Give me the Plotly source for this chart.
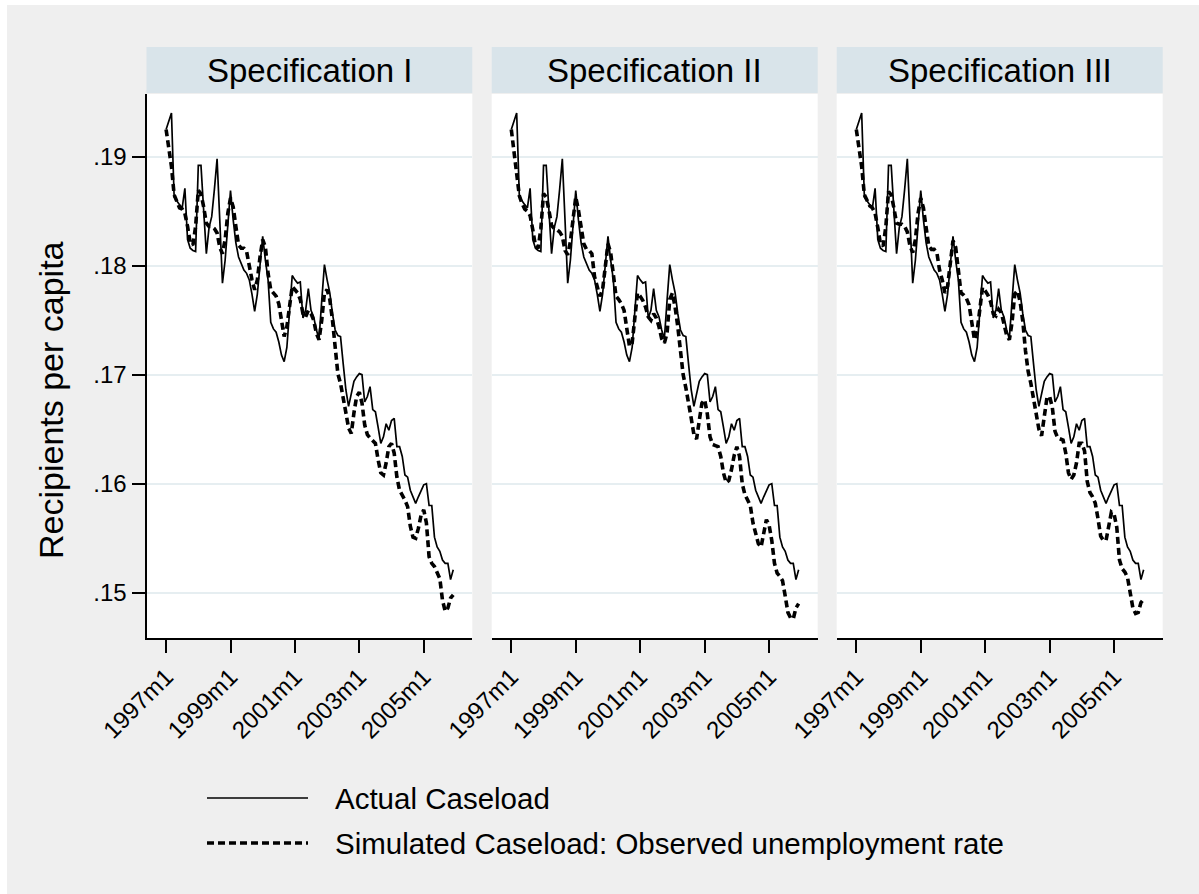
import plotly.graph_objects as go

# Monthly caseload, 1997m1 - 2005m12 (recipients per capita)
actual = [
    0.1925, 0.1932, 0.1940, 0.1863, 0.1859, 0.1856, 0.1853, 0.1871, 0.1824, 0.1816, 0.1814, 0.1813,
    0.1892, 0.1892, 0.1851, 0.1811, 0.1835, 0.1845, 0.1870, 0.1898, 0.1842, 0.1784, 0.1805, 0.1836,
    0.1869, 0.1842, 0.1821, 0.1808, 0.1801, 0.1796, 0.1793, 0.1787, 0.1774, 0.1758, 0.1774, 0.1799,
    0.1827, 0.1805, 0.1787, 0.1748, 0.1742, 0.1739, 0.1730, 0.1718, 0.1712, 0.1725, 0.1755, 0.1791,
    0.1787, 0.1784, 0.1785, 0.1752, 0.1759, 0.1779, 0.1759, 0.1753, 0.1741, 0.1733, 0.1768, 0.1801,
    0.1787, 0.1775, 0.1756, 0.1741, 0.1736, 0.1735, 0.1710, 0.1686, 0.1671, 0.1683, 0.1694, 0.1698,
    0.1701, 0.1700, 0.1675, 0.1680, 0.1689, 0.1668, 0.1666, 0.1652, 0.1637, 0.1643, 0.1655, 0.1649,
    0.1658, 0.1660, 0.1634, 0.1634, 0.1625, 0.1608, 0.1606, 0.1594, 0.1588, 0.1582, 0.1588, 0.1594,
    0.1599, 0.1600, 0.1580, 0.1580, 0.1551, 0.1542, 0.1538, 0.1530, 0.1527, 0.1527, 0.1512, 0.1521,
]

sim_spec1 = [
    0.1925, 0.1906, 0.1891, 0.1865, 0.1859, 0.1853, 0.1852, 0.1848, 0.1836, 0.1821, 0.1819, 0.1836,
    0.1869, 0.1866, 0.1854, 0.1839, 0.1836, 0.1836, 0.1834, 0.1830, 0.1817, 0.1811, 0.1824, 0.1848,
    0.1862, 0.1854, 0.1836, 0.1819, 0.1816, 0.1816, 0.1813, 0.1799, 0.1787, 0.1778, 0.1787, 0.1808,
    0.1824, 0.1817, 0.1793, 0.1778, 0.1775, 0.1772, 0.1765, 0.1747, 0.1735, 0.1744, 0.1762, 0.1781,
    0.1778, 0.1775, 0.1769, 0.1756, 0.1753, 0.1759, 0.1756, 0.1750, 0.1738, 0.1732, 0.1750, 0.1775,
    0.1778, 0.1769, 0.1750, 0.1721, 0.1701, 0.1692, 0.1680, 0.1665, 0.1651, 0.1646, 0.1665, 0.1680,
    0.1684, 0.1674, 0.1654, 0.1645, 0.1642, 0.1640, 0.1637, 0.1622, 0.1610, 0.1608, 0.1619, 0.1634,
    0.1637, 0.1628, 0.1606, 0.1594, 0.1590, 0.1585, 0.1579, 0.1561, 0.1551, 0.1550, 0.1559, 0.1571,
    0.1576, 0.1564, 0.1533, 0.1527, 0.1524, 0.1519, 0.1513, 0.1493, 0.1483, 0.1486, 0.1495, 0.1498,
]

sim_spec2 = [
    0.1925, 0.1905, 0.1890, 0.1864, 0.1857, 0.1852, 0.1850, 0.1846, 0.1833, 0.1818, 0.1816, 0.1834,
    0.1866, 0.1863, 0.1851, 0.1837, 0.1834, 0.1833, 0.1831, 0.1827, 0.1814, 0.1810, 0.1822, 0.1845,
    0.1863, 0.1851, 0.1833, 0.1820, 0.1815, 0.1814, 0.1811, 0.1790, 0.1781, 0.1772, 0.1778, 0.1802,
    0.1820, 0.1812, 0.1793, 0.1772, 0.1769, 0.1765, 0.1759, 0.1744, 0.1726, 0.1729, 0.1756, 0.1775,
    0.1772, 0.1768, 0.1762, 0.1753, 0.1750, 0.1756, 0.1752, 0.1744, 0.1733, 0.1729, 0.1738, 0.1769,
    0.1775, 0.1762, 0.1744, 0.1723, 0.1700, 0.1688, 0.1676, 0.1660, 0.1645, 0.1641, 0.1658, 0.1674,
    0.1677, 0.1664, 0.1643, 0.1636, 0.1635, 0.1634, 0.1625, 0.1610, 0.1601, 0.1603, 0.1613, 0.1626,
    0.1634, 0.1625, 0.1600, 0.1590, 0.1585, 0.1580, 0.1564, 0.1553, 0.1545, 0.1542, 0.1554, 0.1567,
    0.1562, 0.1548, 0.1527, 0.1518, 0.1515, 0.1511, 0.1497, 0.1482, 0.1477, 0.1476, 0.1486, 0.1490,
]

sim_spec3 = [
    0.1925, 0.1906, 0.1891, 0.1865, 0.1860, 0.1855, 0.1853, 0.1848, 0.1835, 0.1820, 0.1818, 0.1836,
    0.1868, 0.1865, 0.1853, 0.1839, 0.1838, 0.1838, 0.1836, 0.1831, 0.1818, 0.1812, 0.1824, 0.1848,
    0.1862, 0.1853, 0.1835, 0.1818, 0.1815, 0.1815, 0.1812, 0.1796, 0.1787, 0.1775, 0.1781, 0.1806,
    0.1823, 0.1817, 0.1792, 0.1775, 0.1773, 0.1770, 0.1764, 0.1746, 0.1732, 0.1740, 0.1760, 0.1780,
    0.1777, 0.1773, 0.1767, 0.1756, 0.1754, 0.1760, 0.1757, 0.1747, 0.1736, 0.1732, 0.1748, 0.1774,
    0.1777, 0.1767, 0.1749, 0.1722, 0.1703, 0.1692, 0.1679, 0.1664, 0.1650, 0.1644, 0.1664, 0.1679,
    0.1680, 0.1670, 0.1648, 0.1642, 0.1641, 0.1640, 0.1628, 0.1610, 0.1604, 0.1608, 0.1619, 0.1637,
    0.1637, 0.1630, 0.1602, 0.1592, 0.1588, 0.1582, 0.1568, 0.1552, 0.1548, 0.1548, 0.1561, 0.1574,
    0.1572, 0.1560, 0.1530, 0.1522, 0.1519, 0.1514, 0.1500, 0.1486, 0.1481, 0.1482, 0.1491, 0.1494,
]

panel_titles = ["Specification I", "Specification II", "Specification III"]
simulated = [sim_spec1, sim_spec2, sim_spec3]

# Stata %tm month numbers: 1997m1 = 444
start_month = 444
months = [start_month + i for i in range(len(actual))]
x_tickvals = [444, 468, 492, 516, 540]
x_ticktext = ["1997m1", "1999m1", "2001m1", "2003m1", "2005m1"]
y_tickvals = [0.15, 0.16, 0.17, 0.18, 0.19]
y_ticktext = [".15", ".16", ".17", ".18", ".19"]

legend_labels = ["Actual Caseload", "Simulated Caseload: Observed unemployment rate"]

W, H = 1199, 894
FONT = "Liberation Sans, Arial, Helvetica, sans-serif"
BG = "#EFEFEF"
STRIP = "#D9E4EA"
GRID = "#E6EEF1"


def px(x):
    return x / W


def py(y):
    return 1 - y / H


# panel plot areas in pixels (left, right); shared top/bottom
panels_px = [(146.5, 472.3), (491.7, 817.7), (836.7, 1162.7)]
top_px, bottom_px = 94, 638.3
strip_top_px = 47

x_range = [start_month - 7.3, start_month + 114.1]
y_range = [0.14582, 0.19575]

fig = go.Figure()
layout = {}
shapes = []
annotations = []

for k, (l, r) in enumerate(panels_px):
    suffix = "" if k == 0 else str(k + 1)
    xa, ya = "x" + suffix, "y" + suffix
    fig.add_trace(go.Scatter(
        x=months, y=actual, mode="lines", xaxis=xa, yaxis=ya,
        line=dict(color="black", width=1.7), showlegend=False, hoverinfo="skip"))
    fig.add_trace(go.Scatter(
        x=months, y=simulated[k], mode="lines", xaxis=xa, yaxis=ya,
        line=dict(color="black", width=3.6, dash="7px,4px"), showlegend=False,
        hoverinfo="skip"))

    layout["xaxis" + suffix] = dict(
        domain=[px(l), px(r)], anchor=ya, range=x_range,
        showgrid=False, zeroline=False, showline=True, linecolor="black", linewidth=2,
        ticks="outside", ticklen=13, tickwidth=1.8, tickcolor="black",
        tickvals=x_tickvals, ticktext=x_ticktext, tickangle=-45,
        tickfont=dict(family=FONT, size=24, color="black"), automargin=False)
    ydict = dict(
        domain=[py(bottom_px), py(top_px)], anchor=xa, range=y_range,
        showgrid=True, gridcolor=GRID, gridwidth=2, zeroline=False,
        tickvals=y_tickvals, automargin=False)
    if k == 0:
        ydict.update(showline=True, linecolor="black", linewidth=2,
                     ticks="outside", ticklen=13, tickwidth=1.8, tickcolor="black",
                     ticktext=y_ticktext, ticklabelstandoff=0,
                     tickfont=dict(family=FONT, size=24, color="black"))
    else:
        ydict.update(showline=False, ticks="", showticklabels=False)
    layout["yaxis" + suffix] = ydict

    # panel header strip
    shapes.append(dict(type="rect", xref="paper", yref="paper",
                       x0=px(l), x1=px(r), y0=py(top_px - 1), y1=py(strip_top_px),
                       fillcolor=STRIP, line=dict(width=0), layer="below"))
    annotations.append(dict(text=panel_titles[k], xref="paper", yref="paper",
                            x=px((l + r) / 2), y=py((strip_top_px + top_px) / 2),
                            xanchor="center", yanchor="middle", showarrow=False,
                            font=dict(family=FONT, size=33, color="black")))

# white page edge around the graph region
shapes.append(dict(type="rect", xref="paper", yref="paper", x0=0, x1=px(7), y0=0, y1=1,
                   fillcolor="white", line=dict(width=0), layer="below"))
shapes.append(dict(type="rect", xref="paper", yref="paper", x0=0, x1=1, y0=py(5), y1=1,
                   fillcolor="white", line=dict(width=0), layer="below"))

# y-axis title
annotations.append(dict(text="Recipients per capita", xref="paper", yref="paper",
                        x=px(51), y=py(400), xanchor="center", yanchor="middle",
                        textangle=-90, showarrow=False,
                        font=dict(family=FONT, size=34, color="black")))

# legend keys
legend_rows = [(798, dict(color="black", width=1.7)),
               (843, dict(color="black", width=3.6, dash="7px,4px"))]
for (yrow, ln), label in zip(legend_rows, legend_labels):
    shapes.append(dict(type="line", xref="paper", yref="paper",
                       x0=px(207), x1=px(308), y0=py(yrow), y1=py(yrow), line=ln))
    annotations.append(dict(text=label, xref="paper", yref="paper",
                            x=px(333), y=py(yrow), xanchor="left", yanchor="middle",
                            showarrow=False,
                            font=dict(family=FONT, size=29.5, color="black")))

fig.update_layout(
    width=W, height=H, margin=dict(l=0, r=0, t=0, b=0, pad=0),
    paper_bgcolor=BG, plot_bgcolor="white", showlegend=False,
    shapes=shapes, annotations=annotations, **layout)

fig.write_html("out.html")
